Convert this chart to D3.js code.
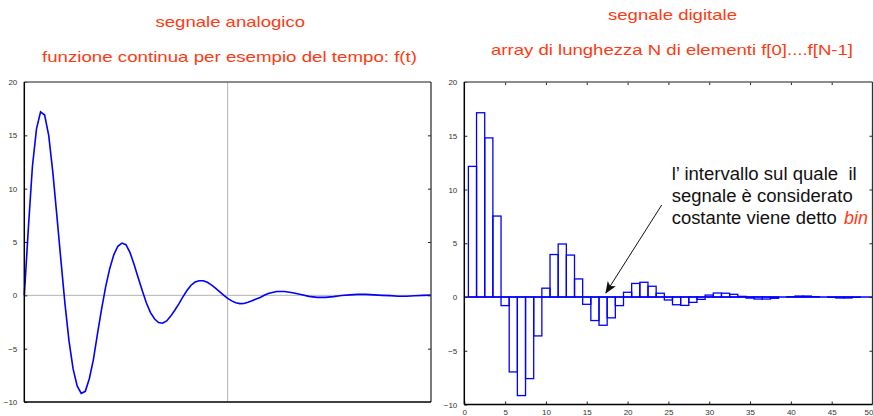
<!DOCTYPE html>
<html><head><meta charset="utf-8">
<script src="https://cdn.jsdelivr.net/npm/d3@7"></script>
<style>
html,body{margin:0;padding:0;background:#fff;}
svg{display:block;font-family:"Liberation Sans",Arial,sans-serif;}
</style></head>
<body>
<svg id="c" width="873" height="416"></svg>
<script>
// ---- data ----
const yTicks = [-10, -5, 0, 5, 10, 15, 20];
const xTicks = [0, 5, 10, 15, 20, 25, 30, 35, 40, 45, 50];
const analogT = [0,0.5,1,1.5,2,2.5,3,3.5,4,4.5,5,5.5,6,6.5,7,7.5,8,8.5,9,9.5,10,10.5,11,11.5,12,12.5,13,13.5,14,14.5,15,15.5,16,16.5,17,17.5,18,18.5,19,19.5,20,20.5,21,21.5,22,22.5,23,23.5,24,24.5,25,25.5,26,26.5,27,27.5,28,28.5,29,29.5,30,31,32,33,34,35,36,37,38,39,40,41,42,43,44,45,46,47,48,49,50];
const analogValues = [0,6.3,12.1,15.6,17.2,16.9,15.0,11.6,7.5,3.3,-0.8,-4.3,-6.9,-8.5,-9.2,-9.0,-7.8,-6.0,-3.6,-1.3,0.8,2.5,3.8,4.6,4.9,4.75,4.0,2.9,1.65,0.45,-0.7,-1.6,-2.2,-2.55,-2.62,-2.4,-1.95,-1.4,-0.8,-0.15,0.45,0.95,1.25,1.37,1.37,1.22,0.98,0.68,0.35,0.02,-0.28,-0.52,-0.7,-0.78,-0.76,-0.65,-0.5,-0.35,-0.2,0.0,0.18,0.36,0.36,0.25,0.07,-0.1,-0.19,-0.19,-0.12,-0.02,0.04,0.09,0.09,0.04,0.0,-0.03,-0.08,-0.08,-0.04,0.0,0.02];
const binIndex = [0,1,2,3,4,5,6,7,8,9,10,11,12,13,14,15,16,17,18,19,20,21,22,23,24,25,26,27,28,29,30,31,32,33,34,35,36,37,38,39,40,41,42,43,44,45,46,47,48,49,50];
const digitalValues = [0,12.15,17.14,14.8,7.53,-0.8,-6.97,-9.17,-7.59,-3.62,0.82,3.95,4.93,3.9,1.68,-0.68,-2.19,-2.63,-1.94,-0.8,0.44,1.26,1.37,1.0,0.35,-0.28,-0.72,-0.78,-0.5,-0.22,0.18,0.37,0.35,0.25,0.06,-0.1,-0.19,-0.19,-0.12,0,0.03,0.09,0.09,0.03,0,-0.03,-0.09,-0.09,-0.03,0,0];

const titles = [
  {text:"segnale analogico", x0:155.5, x1:305, y:27},
  {text:"funzione continua per esempio del tempo: f(t)", x0:42, x1:417, y:62},
  {text:"segnale digitale", x0:608, x1:737, y:20},
  {text:"array di lunghezza N di elementi f[0]....f[N-1]", x0:491, x1:853, y:55}
];

const svg = d3.select("#c");
const RED = "#ff3a12", BLUE = "#0000ff";

// titles
titles.forEach(t => {
  svg.append("text").attr("x", t.x0).attr("y", t.y)
    .attr("font-size", 15).attr("fill", RED)
    .attr("textLength", t.x1 - t.x0).attr("lengthAdjust", "spacingAndGlyphs")
    .text(t.text);
});

function frame(g, x, y, opts) {
  const [xa, xb] = x.range(), [yb, ya] = y.range();
  g.append("g").attr("transform", `translate(${xa},0)`)
    .call(d3.axisLeft(y).tickValues(yTicks).tickSize(-3).tickPadding(7).tickFormat(d3.format("d")))
    .call(s => { s.select(".domain").remove();
      s.selectAll("line").attr("stroke", "#222");
      s.selectAll("text").attr("font-size", 8).attr("fill", "#333").attr("font-family","Liberation Sans,Arial,sans-serif"); });
  g.append("g").attr("transform", `translate(${xb},0)`)
    .call(d3.axisRight(y).tickValues(yTicks.slice(1, -1)).tickSize(-3).tickFormat(""))
    .call(s => { s.select(".domain").remove(); s.selectAll("line").attr("stroke", "#222"); });
  if (opts.xticks) {
    g.append("g").attr("transform", `translate(0,${yb})`)
      .call(d3.axisBottom(x).tickValues(xTicks).tickSize(-3).tickPadding(5).tickFormat(d3.format("d")))
      .call(s => { s.select(".domain").remove();
        s.selectAll("line").attr("stroke", "#222");
        s.selectAll("text").attr("font-size", 8).attr("fill", "#333").attr("font-family","Liberation Sans,Arial,sans-serif");
        s.selectAll(".tick").filter(d => d === 50).select("text").attr("text-anchor", "end").attr("x", 0.5); });
    g.append("g").attr("transform", `translate(0,${ya})`)
      .call(d3.axisTop(x).tickValues(xTicks.slice(1, -1)).tickSize(-3).tickFormat(""))
      .call(s => { s.select(".domain").remove(); s.selectAll("line").attr("stroke", "#222"); });
  }
  g.append("line").attr("x1", xa).attr("x2", xb).attr("y1", ya).attr("y2", ya).attr("stroke", "#666").attr("stroke-width", 1.3);
  g.append("line").attr("x1", xb).attr("x2", xb).attr("y1", ya).attr("y2", yb).attr("stroke", "#333").attr("stroke-width", 1.3);
  g.append("line").attr("x1", xa).attr("x2", xb).attr("y1", yb).attr("y2", yb).attr("stroke", "#000").attr("stroke-width", 1.5);
  g.append("line").attr("x1", xa).attr("x2", xa).attr("y1", ya).attr("y2", yb).attr("stroke", "#000").attr("stroke-width", 1.5);
}

// ---- left chart ----
const xL = d3.scaleLinear().domain([0, 50]).range([24.3, 431]);
const yL = d3.scaleLinear().domain([-10, 20]).range([402, 82]);
const gL = svg.append("g");
gL.append("line").attr("x1", xL(0)).attr("x2", xL(50)).attr("y1", yL(0)).attr("y2", yL(0)).attr("stroke", "#b4b4b4").attr("stroke-width", 1);
gL.append("line").attr("x1", xL(25)).attr("x2", xL(25)).attr("y1", yL(20)).attr("y2", yL(-10)).attr("stroke", "#b4b4b4").attr("stroke-width", 1);
gL.append("path")
  .datum(analogT.map((t, i) => [t, analogValues[i]]))
  .attr("d", d3.line().x(d => xL(d[0])).y(d => yL(d[1])))
  .attr("fill", "none").attr("stroke", BLUE).attr("stroke-width", 1.6).attr("stroke-linejoin", "miter");
frame(gL, xL, yL, {xticks: false});

// ---- right chart ----
const xR = d3.scaleLinear().domain([0, 50]).range([464.3, 872.5]);
const yR = d3.scaleLinear().domain([-10, 20]).range([404.5, 82]);
const gR = svg.append("g");
svg.append("defs").append("clipPath").attr("id", "clipR").append("rect")
  .attr("x", xR(0)).attr("y", yR(20)).attr("width", xR(50) - xR(0)).attr("height", yR(-10) - yR(20));
const bars = gR.append("g").attr("clip-path", "url(#clipR)");
bars.selectAll("rect").data(binIndex).join("rect")
  .attr("x", i => xR(i - 0.5))
  .attr("width", i => xR(i + 0.5) - xR(i - 0.5))
  .attr("y", i => yR(Math.max(0, digitalValues[i])))
  .attr("height", i => Math.abs(yR(digitalValues[i]) - yR(0)))
  .attr("fill", "none").attr("stroke", BLUE).attr("stroke-width", 1.3);
bars.append("line").attr("x1", xR(0)).attr("x2", xR(50)).attr("y1", yR(0)).attr("y2", yR(0)).attr("stroke", BLUE).attr("stroke-width", 1.6);
frame(gR, xR, yR, {xticks: true});

// annotation
const ann = svg.append("g").attr("font-size", 17.5).attr("fill", "#111");
ann.append("text").attr("x", 671.7).attr("y", 180).attr("textLength", 185).attr("lengthAdjust", "spacingAndGlyphs")
  .style("white-space", "pre").text("l\u2019 intervallo sul quale  il");
ann.append("text").attr("x", 671.7).attr("y", 202).attr("textLength", 181).attr("lengthAdjust", "spacingAndGlyphs")
  .text("segnale è considerato");
ann.append("text").attr("x", 671.7).attr("y", 224).attr("textLength", 165).attr("lengthAdjust", "spacingAndGlyphs")
  .text("costante viene detto");
ann.append("text").attr("x", 844).attr("y", 224).attr("textLength", 24).attr("lengthAdjust", "spacingAndGlyphs")
  .attr("fill", RED).attr("font-style", "italic").text("bin");

svg.select("defs").append("marker").attr("id", "ah").attr("viewBox", "0 0 10 10")
  .attr("refX", 9).attr("refY", 5).attr("markerWidth", 12).attr("markerHeight", 12)
  .attr("markerUnits", "userSpaceOnUse").attr("orient", "auto")
  .append("path").attr("d", "M0,1 L10,5 L0,9 L2.5,5 Z").attr("fill", "#111");
svg.append("line").attr("x1", 661.7).attr("y1", 205).attr("x2", 606).attr("y2", 292.7)
  .attr("stroke", "#111").attr("stroke-width", 1).attr("marker-end", "url(#ah)");
</script>
</body></html>
